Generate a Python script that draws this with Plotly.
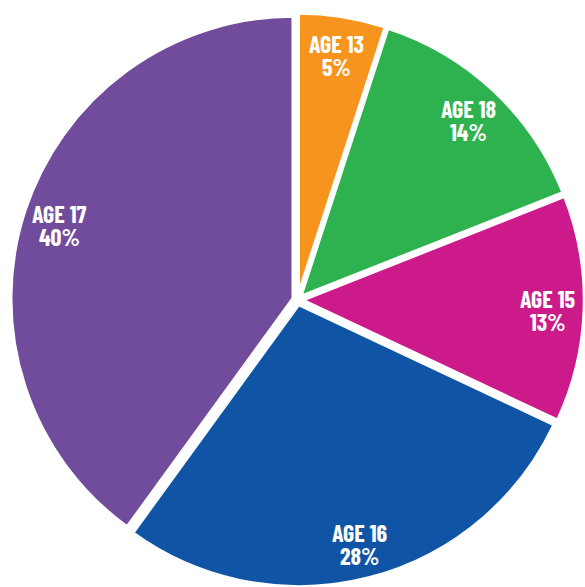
import math
import plotly.graph_objects as go

# ---- data ----
labels = ["AGE 13", "AGE 18", "AGE 15", "AGE 16", "AGE 17"]
values = [5, 14, 13, 28, 40]
colors = ["#F7941E", "#2DB24F", "#CC1A8A", "#1055A5", "#724C9C"]

W, H = 585, 587
PULL = 0.016
LABEL_R = 0.87
FONT = "Barlow Condensed, PT Sans Narrow, Roboto Condensed, DejaVu Sans Condensed, sans-serif"
FSIZE = 24
LINE_GAP = 23   # px between the two text lines
TEXT_DY = 2     # small downward nudge so cap-height centres on the anchor

# pie domain in pixels (from left / top)
dom_l, dom_r = 10, 585
dom_t, dom_b = 13, 587

fig = go.Figure(go.Pie(
    labels=labels,
    values=values,
    sort=False,
    direction="clockwise",
    rotation=0,
    textinfo="none",
    hoverinfo="label+percent",
    pull=[PULL] * len(values),
    marker=dict(colors=colors, line=dict(color="white", width=3.5)),
    domain=dict(x=[dom_l / W, dom_r / W], y=[(H - dom_b) / H, (H - dom_t) / H]),
    showlegend=False,
))

# replicate plotly's pie geometry to put labels near the rim
cx = (dom_l + dom_r) / 2
cy = (dom_t + dom_b) / 2
r = min(dom_r - dom_l, dom_b - dom_t) / 2 / (1 + PULL)
total = sum(values)
cum = 0
annotations = []
for lab, v in zip(labels, values):
    mid = (cum + v / 2) / total * 2 * math.pi
    cum += v
    rr = (LABEL_R + PULL) * r
    px = cx + rr * math.sin(mid)
    py = cy - rr * math.cos(mid) + TEXT_DY
    pct = round(v / total * 100)
    for txt, dy in ((lab, -LINE_GAP / 2), (f"{pct}%", LINE_GAP / 2)):
        annotations.append(dict(
            x=px / W, y=1 - (py + dy) / H, xref="paper", yref="paper",
            text=txt, showarrow=False,
            xanchor="center", yanchor="middle", align="center",
            font=dict(family=FONT, size=FSIZE, color="white", weight="bold"),
        ))

fig.update_layout(
    width=W, height=H,
    margin=dict(l=0, r=0, t=0, b=0),
    paper_bgcolor="white", plot_bgcolor="white",
    annotations=annotations,
)

fig.write_html("out.html")
